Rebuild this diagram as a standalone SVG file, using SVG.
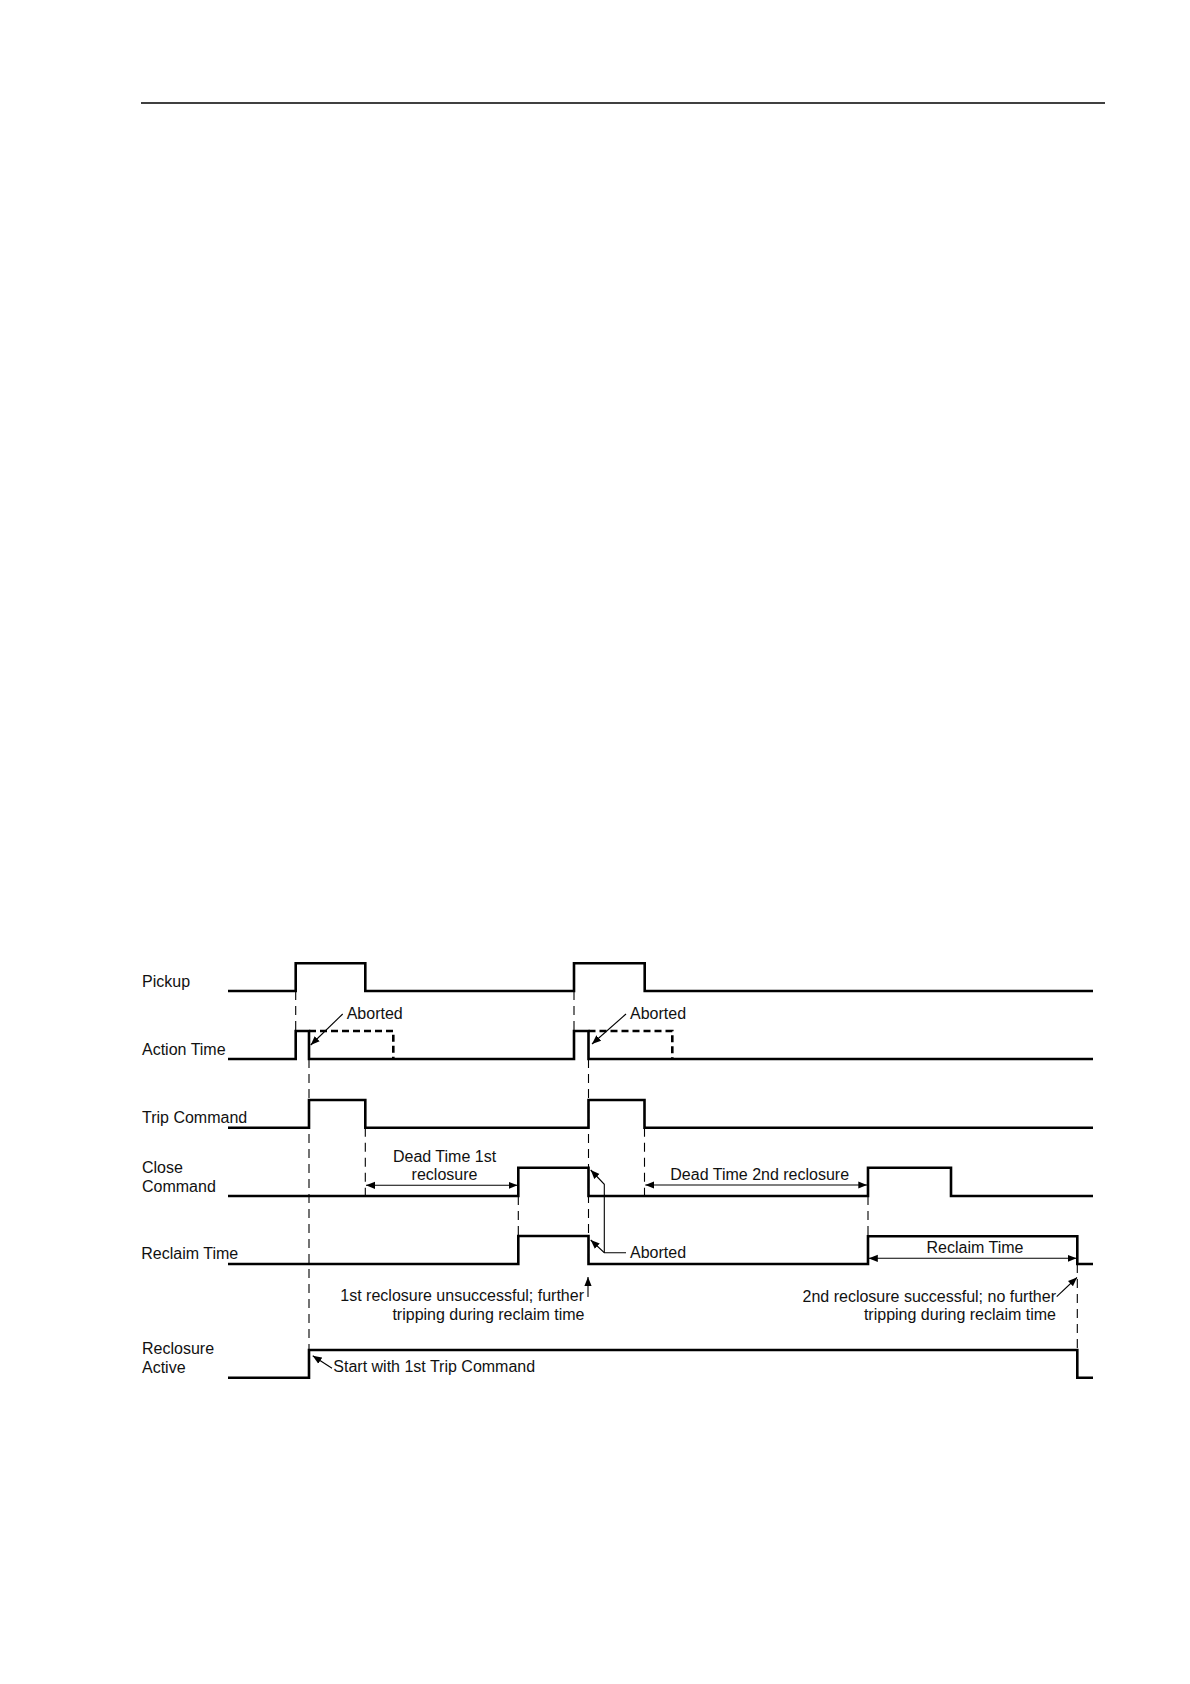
<svg xmlns="http://www.w3.org/2000/svg" width="1190" height="1684" viewBox="0 0 1190 1684">
<style>
.sig{fill:none;stroke:#000;stroke-width:2.6;stroke-linejoin:miter}
.dsig{fill:none;stroke:#000;stroke-width:2.6;stroke-dasharray:7,4}
.dash{fill:none;stroke:#000;stroke-width:1.1;stroke-dasharray:9,6}
.thin{fill:none;stroke:#000;stroke-width:1.1}
text{font-family:"Liberation Sans",Arial,sans-serif;font-size:16px;fill:#111}
.c{text-anchor:middle}
.r{text-anchor:end}
</style>
<defs>
<marker id="ah" viewBox="0 0 10 10" refX="10" refY="5" markerWidth="9" markerHeight="9" markerUnits="userSpaceOnUse" orient="auto-start-reverse">
<path d="M0,1 L10,5 L0,9 z" fill="#000"/>
</marker>
</defs>
<line x1="141" y1="103" x2="1105" y2="103" stroke="#000" stroke-width="1.3"/>

<g id="pickup">
<text x="142" y="987">Pickup</text>
<path class="sig" d="M228,991 H295.7 V963.3 H365.3 V991 H574 V963.3 H644.7 V991 H1093"/>
</g>
<g id="action-time">
<text x="142" y="1055">Action Time</text>
<path class="sig" d="M228,1059 H295.7 V1031 H309 V1059 H574 V1031 H588.5 V1059 H1093"/>
<path class="dsig" d="M309,1031 H393.3 V1059"/>
<path class="dsig" d="M588.5,1031 H672.3 V1059"/>
</g>
<g id="trip-command">
<text x="142" y="1123">Trip Command</text>
<path class="sig" d="M228,1127.7 H309 V1100 H365.3 V1127.7 H588.5 V1100 H644.5 V1127.7 H1093"/>
</g>
<g id="close-command">
<text x="142" y="1172.5">Close</text>
<text x="142" y="1191.5">Command</text>
<path class="sig" d="M228,1196 H518.3 V1167.7 H588.5 V1196 H868 V1167.7 H951 V1196 H1093"/>
</g>
<g id="reclaim-time">
<text x="141.3" y="1259">Reclaim Time</text>
<path class="sig" d="M228,1264 H518.3 V1236 H588.5 V1264 H868 V1236.3 H1077.3 V1264 H1093"/>
</g>
<g id="reclosure-active">
<text x="142" y="1354">Reclosure</text>
<text x="142" y="1373">Active</text>
<path class="sig" d="M228,1377.7 H309 V1350 H1077.3 V1377.7 H1093"/>
</g>

<g id="connectors">
<line class="dash" x1="295.7" y1="991" x2="295.7" y2="1031"/>
<line class="dash" x1="574" y1="991" x2="574" y2="1031"/>
<line class="dash" x1="309" y1="1059" x2="309" y2="1350"/>
<line class="dash" x1="588.5" y1="1059" x2="588.5" y2="1264"/>
<line class="dash" x1="365.3" y1="1127.7" x2="365.3" y2="1196"/>
<line class="dash" x1="644.5" y1="1127.7" x2="644.5" y2="1196"/>
<line class="dash" x1="518.3" y1="1196" x2="518.3" y2="1236"/>
<line class="dash" x1="868" y1="1196" x2="868" y2="1236"/>
<line class="dash" x1="1077.3" y1="1264" x2="1077.3" y2="1350"/>

<line class="thin" x1="342.7" y1="1014" x2="310.7" y2="1045" marker-end="url(#ah)"/>
<line class="thin" x1="626" y1="1014" x2="592" y2="1044" marker-end="url(#ah)"/>
<line class="thin" x1="366" y1="1185.3" x2="517.5" y2="1185.3" marker-start="url(#ah)" marker-end="url(#ah)"/>
<line class="thin" x1="645.3" y1="1185" x2="867.3" y2="1185" marker-start="url(#ah)" marker-end="url(#ah)"/>
<line class="thin" x1="868.8" y1="1258.3" x2="1076.5" y2="1258.3" marker-start="url(#ah)" marker-end="url(#ah)"/>
<path class="thin" d="M626,1252.7 H604.3 L590.7,1240" marker-end="url(#ah)"/>
<path class="thin" d="M604.3,1252.7 V1184.3 L590.7,1170" marker-end="url(#ah)"/>
<line class="thin" x1="588" y1="1297" x2="588" y2="1277" marker-end="url(#ah)"/>
<line class="thin" x1="1056.7" y1="1296.7" x2="1077" y2="1277.5" marker-end="url(#ah)"/>
<line class="thin" x1="332" y1="1368.3" x2="312.7" y2="1355.7" marker-end="url(#ah)"/>
</g>

<g id="labels">
<text x="346.7" y="1019">Aborted</text>
<text x="630" y="1019">Aborted</text>
<text class="c" x="444.5" y="1161.5">Dead Time 1st</text>
<text class="c" x="444.5" y="1180">reclosure</text>
<text class="c" x="759.7" y="1180">Dead Time 2nd reclosure</text>
<text x="630" y="1258">Aborted</text>
<text class="c" x="975" y="1252.5">Reclaim Time</text>
<text class="r" x="584" y="1301">1st reclosure unsuccessful; further</text>
<text class="r" x="584.5" y="1319.5">tripping during reclaim time</text>
<text class="r" x="1056" y="1302">2nd reclosure successful; no further</text>
<text class="r" x="1056" y="1320">tripping during reclaim time</text>
<text x="333.3" y="1372">Start with 1st Trip Command</text>
</g>
</svg>
